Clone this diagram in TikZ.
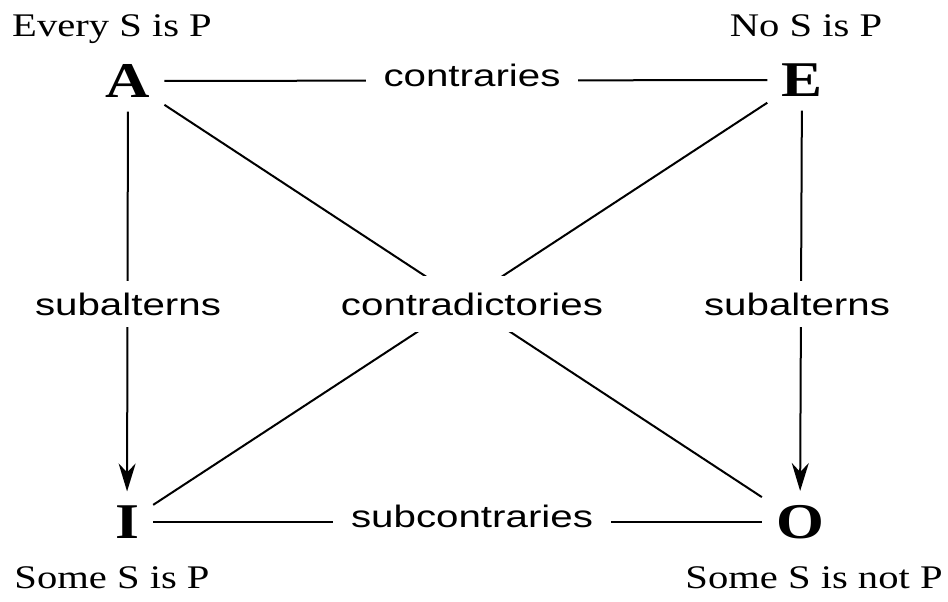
\documentclass[tikz,border=0pt]{standalone}
\usepackage{fontspec}
\setmainfont[FakeStretch=1.23]{Liberation Serif}
\setsansfont[FakeStretch=1.3]{Liberation Sans}
\usetikzlibrary{arrows.meta,backgrounds}
\begin{document}
\begin{tikzpicture}[x=1pt,y=-1pt,
  letter/.style={font=\fontsize{50}{50}\selectfont\bfseries, inner sep=14pt},
  quant/.style={font=\fontsize{33}{33}\selectfont, anchor=base, inner sep=0pt},
  rel/.style={font=\fontsize{31}{31}\sffamily\selectfont, anchor=base, fill=white, inner xsep=18pt, inner ysep=12pt},
  conn/.style={line width=2pt},
  arr/.style={conn, -{Stealth[length=28pt,width=17pt,inset=9pt]}}]
\useasboundingbox (0,0) rectangle (948,602);
% corner letters
\node[letter] (A) at (128,81) {A};
\node[letter] (E) at (802,80) {E};
\node[letter] (I) at (127,522) {I};
\node[letter] (O) at (800,522) {O};
% propositions
\node[quant] (pA) at (112,37) {Every S is P};
\node[quant] (pE) at (806,37) {No S is P};
\node[quant] (pI) at (112,588) {Some S is P};
\node[quant] (pO) at (814,588) {Some S is not P};
% relation labels
\node[rel] (ctr) at (472,87) {contraries};
\node[rel] (subL) at (128,315) {subalterns};
\node[rel] (subR) at (797,315) {subalterns};
\node[rel, inner ysep=17pt] (cdt) at (472,315) {contradictories};
\node[rel] (sct) at (472,527) {subcontraries};
% connectors
\begin{pgfonlayer}{background}
\draw[conn] (A) -- (E);
\draw[conn] (I) -- (O);
\draw[conn] (A) -- (O);
\draw[conn] (E) -- (I);
\draw[arr] (A) -- (I);
\draw[arr] (E) -- (O);
\end{pgfonlayer}
\end{tikzpicture}
\end{document}
